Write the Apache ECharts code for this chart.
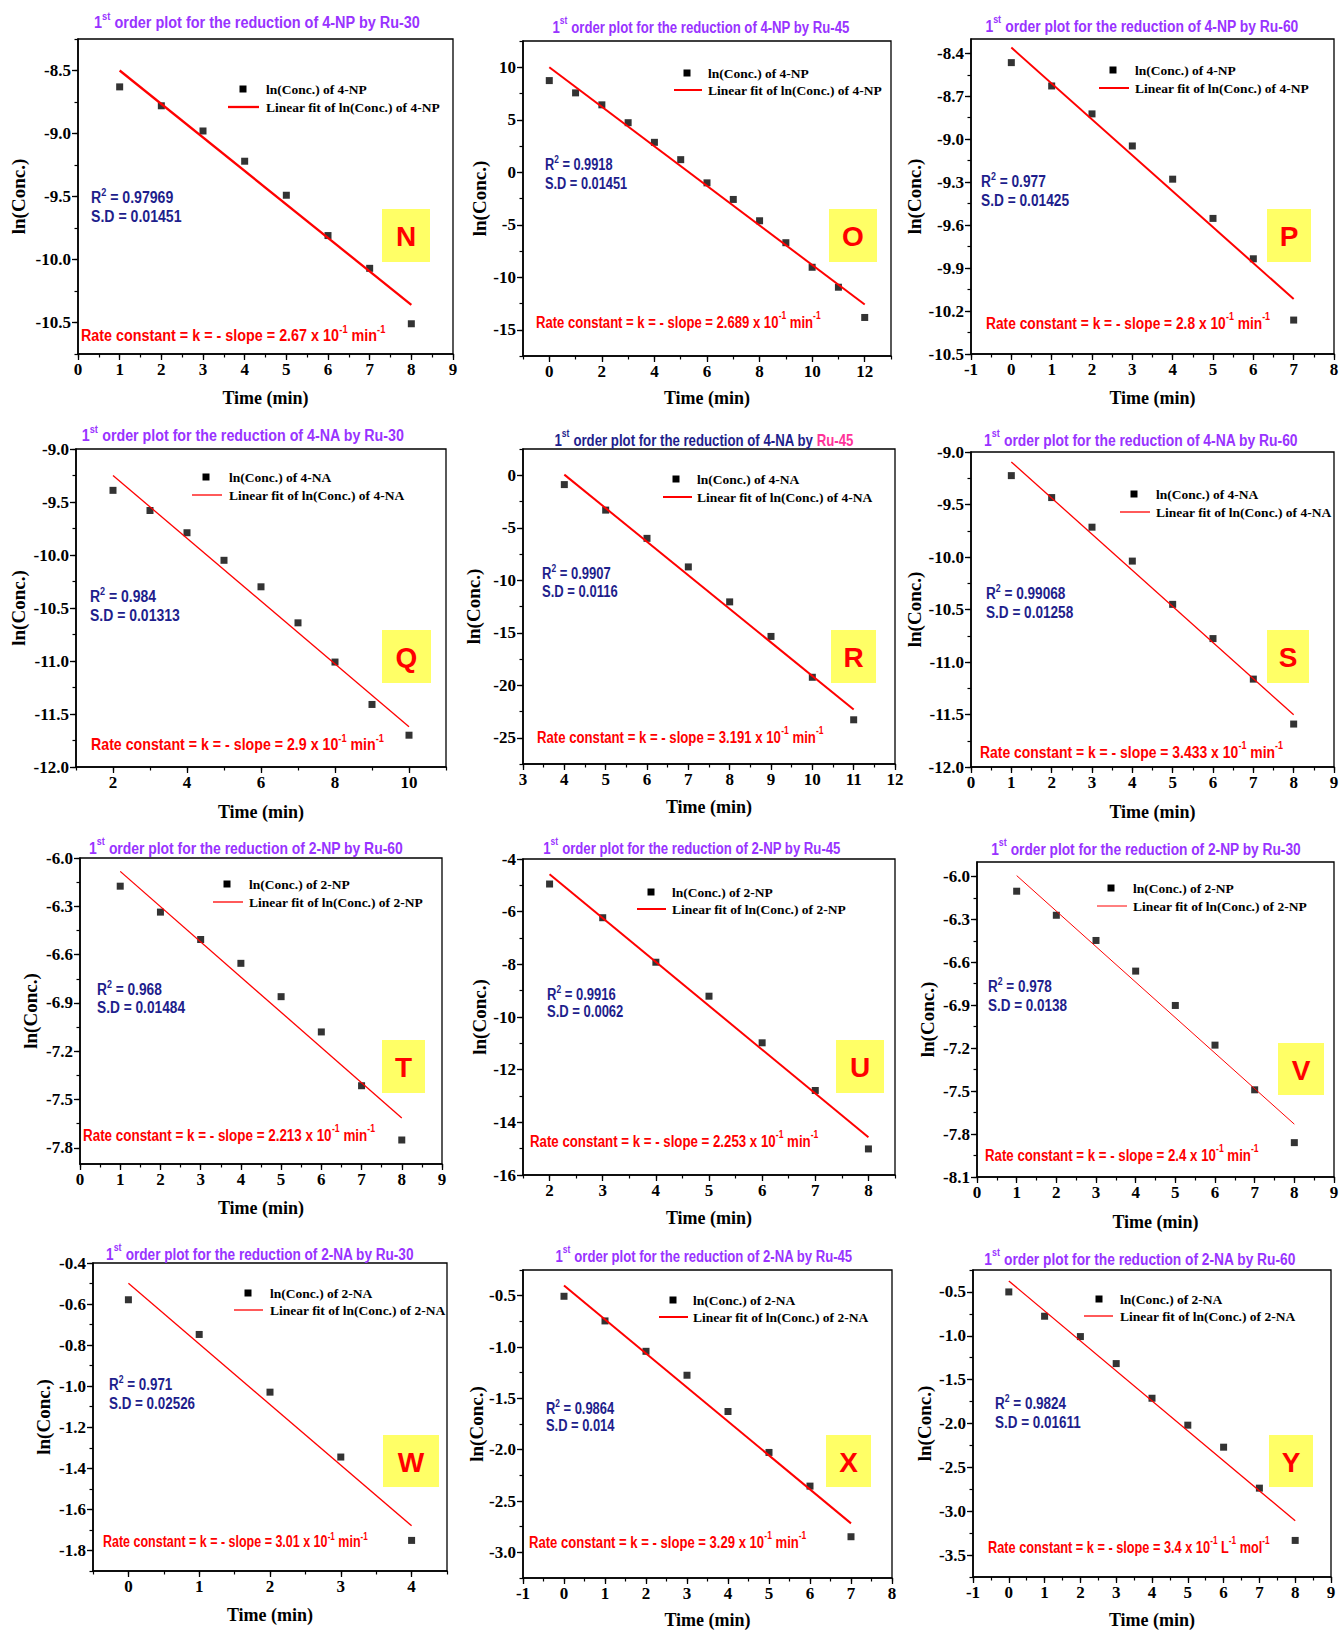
<!DOCTYPE html>
<html>
<head>
<meta charset="utf-8">
<title>1st order plots</title>
<script src="https://cdn.jsdelivr.net/npm/echarts@6.0.0/dist/echarts.min.js"></script>
<style>
  html, body { margin: 0; padding: 0; background: #fff; }
  #chart { width: 1339px; height: 1631px; }
</style>
</head>
<body>
<div id="chart"></div>
<script>
// values, one block per panel
// N : 4-NP by Ru-30
const timeN = [1, 2, 3, 4, 5, 6, 7, 8];
const lnN = [-8.63, -8.78, -8.98, -9.22, -9.49, -9.81, -10.07, -10.51];
const fitN = [[1, -8.50], [8, -10.36]];
const xTicksN = [0, 1, 2, 3, 4, 5, 6, 7, 8, 9];
const yTicksN = [-10.5, -10.0, -9.5, -9.0, -8.5];
const xRangeN = [0, 9];
const yRangeN = [-10.75, -8.25];
const textN = { compound: '4-NP', catalyst: 'Ru-30', r2: '0.97969', sd: '0.01451', k: '2.67' };

// O : 4-NP by Ru-45
const timeO = [0, 1, 2, 3, 4, 5, 6, 7, 8, 9, 10, 11, 12];
const lnO = [8.73, 7.56, 6.42, 4.72, 2.85, 1.20, -1.01, -2.59, -4.62, -6.71, -9.05, -10.95, -13.83];
const fitO = [[0, 10.0], [12, -12.59]];
const xTicksO = [0, 2, 4, 6, 8, 10, 12];
const yTicksO = [-15, -10, -5, 0, 5, 10];
const xRangeO = [-1, 13];
const yRangeO = [-17.5, 12.5];
const textO = { compound: '4-NP', catalyst: 'Ru-45', r2: '0.9918', sd: '0.01451', k: '2.689' };

// P : 4-NP by Ru-60
const timeP = [0, 1, 2, 3, 4, 5, 6, 7];
const lnP = [-8.465, -8.628, -8.823, -9.047, -9.279, -9.553, -9.835, -10.263];
const fitP = [[0, -8.36], [7, -10.116]];
const xTicksP = [-1, 0, 1, 2, 3, 4, 5, 6, 7, 8];
const yTicksP = [-10.5, -10.2, -9.9, -9.6, -9.3, -9.0, -8.7, -8.4];
const xRangeP = [-1, 8];
const yRangeP = [-10.5, -8.3];
const textP = { compound: '4-NP', catalyst: 'Ru-60', r2: '0.977', sd: '0.01425', k: '2.8' };

// Q : 4-NA by Ru-30
const timeQ = [2, 3, 4, 5, 6, 7, 8, 9, 10];
const lnQ = [-9.39, -9.58, -9.79, -10.05, -10.30, -10.64, -11.01, -11.41, -11.70];
const fitQ = [[2, -9.25], [10, -11.62]];
const xTicksQ = [2, 4, 6, 8, 10];
const yTicksQ = [-12.0, -11.5, -11.0, -10.5, -10.0, -9.5, -9.0];
const xRangeQ = [1, 11];
const yRangeQ = [-12, -9];
const textQ = { compound: '4-NA', catalyst: 'Ru-30', r2: '0.984', sd: '0.01313', k: '2.9' };

// R : 4-NA by Ru-45
const timeR = [4, 5, 6, 7, 8, 9, 10, 11];
const lnR = [-0.89, -3.32, -6.01, -8.73, -12.06, -15.35, -19.24, -23.29];
const fitR = [[4, 0.06], [11, -22.31]];
const xTicksR = [3, 4, 5, 6, 7, 8, 9, 10, 11, 12];
const yTicksR = [-25, -20, -15, -10, -5, 0];
const xRangeR = [3, 12];
const yRangeR = [-27.5, 2.5];
const textR = { compound: '4-NA', catalyst: 'Ru-45', r2: '0.9907', sd: '0.0116', k: '3.191' };

// S : 4-NA by Ru-60
const timeS = [1, 2, 3, 4, 5, 6, 7, 8];
const lnS = [-9.225, -9.434, -9.716, -10.039, -10.451, -10.777, -11.163, -11.591];
const fitS = [[1, -9.095], [8, -11.502]];
const xTicksS = [0, 1, 2, 3, 4, 5, 6, 7, 8, 9];
const yTicksS = [-12.0, -11.5, -11.0, -10.5, -10.0, -9.5, -9.0];
const xRangeS = [0, 9];
const yRangeS = [-12, -9];
const textS = { compound: '4-NA', catalyst: 'Ru-60', r2: '0.99068', sd: '0.01258', k: '3.433' };

// T : 2-NP by Ru-60
const timeT = [1, 2, 3, 4, 5, 6, 7, 8];
const lnT = [-6.175, -6.336, -6.506, -6.654, -6.861, -7.080, -7.414, -7.751];
const fitT = [[1, -6.083], [8, -7.614]];
const xTicksT = [0, 1, 2, 3, 4, 5, 6, 7, 8, 9];
const yTicksT = [-7.8, -7.5, -7.2, -6.9, -6.6, -6.3, -6.0];
const xRangeT = [0, 9];
const yRangeT = [-7.9, -6.0];
const textT = { compound: '2-NP', catalyst: 'Ru-60', r2: '0.968', sd: '0.01484', k: '2.213' };

// U : 2-NP by Ru-45
const timeU = [2, 3, 4, 5, 6, 7, 8];
const lnU = [-4.95, -6.23, -7.92, -9.21, -10.98, -12.79, -15.01];
const fitU = [[2, -4.58], [8, -14.57]];
const xTicksU = [2, 3, 4, 5, 6, 7, 8];
const yTicksU = [-16, -14, -12, -10, -8, -6, -4];
const xRangeU = [1.5, 8.5];
const yRangeU = [-16, -4];
const textU = { compound: '2-NP', catalyst: 'Ru-45', r2: '0.9916', sd: '0.0062', k: '2.253' };

// V : 2-NP by Ru-30
const timeV = [1, 2, 3, 4, 5, 6, 7, 8];
const lnV = [-6.104, -6.272, -6.448, -6.662, -6.902, -7.179, -7.491, -7.860];
const fitV = [[1, -5.995], [8, -7.731]];
const xTicksV = [0, 1, 2, 3, 4, 5, 6, 7, 8, 9];
const yTicksV = [-8.1, -7.8, -7.5, -7.2, -6.9, -6.6, -6.3, -6.0];
const xRangeV = [0, 9];
const yRangeV = [-8.1, -5.9];
const textV = { compound: '2-NP', catalyst: 'Ru-30', r2: '0.978', sd: '0.0138', k: '2.4' };

// W : 2-NA by Ru-30
const timeW = [0, 1, 2, 3, 4];
const lnW = [-0.579, -0.748, -1.029, -1.345, -1.751];
const fitW = [[0, -0.499], [4, -1.680]];
const xTicksW = [0, 1, 2, 3, 4];
const yTicksW = [-1.8, -1.6, -1.4, -1.2, -1.0, -0.8, -0.6, -0.4];
const xRangeW = [-0.5, 4.5];
const yRangeW = [-1.9, -0.4];
const textW = { compound: '2-NA', catalyst: 'Ru-30', r2: '0.971', sd: '0.02526', k: '3.01' };

// X : 2-NA by Ru-45
const timeX = [0, 1, 2, 3, 4, 5, 6, 7];
const lnX = [-0.506, -0.746, -1.042, -1.275, -1.628, -2.027, -2.355, -2.848];
const fitX = [[0, -0.40], [7, -2.718]];
const xTicksX = [-1, 0, 1, 2, 3, 4, 5, 6, 7, 8];
const yTicksX = [-3.0, -2.5, -2.0, -1.5, -1.0, -0.5];
const xRangeX = [-1, 8];
const yRangeX = [-3.25, -0.25];
const textX = { compound: '2-NA', catalyst: 'Ru-45', r2: '0.9864', sd: '0.014', k: '3.29' };

// Y : 2-NA by Ru-60
const timeY = [0, 1, 2, 3, 4, 5, 6, 7, 8];
const lnY = [-0.50, -0.777, -1.009, -1.317, -1.712, -2.019, -2.270, -2.737, -3.333];
const fitY = [[0, -0.375], [8, -3.109]];
const xTicksY = [-1, 0, 1, 2, 3, 4, 5, 6, 7, 8, 9];
const yTicksY = [-3.5, -3.0, -2.5, -2.0, -1.5, -1.0, -0.5];
const xRangeY = [-1, 9];
const yRangeY = [-3.75, -0.25];
const textY = { compound: '2-NA', catalyst: 'Ru-60', r2: '0.9824', sd: '0.01611', k: '3.4' };

const panels = [
  { id: 'N', time: timeN, ln: lnN, fit: fitN, xTicks: xTicksN, yTicks: yTicksN, xRange: xRangeN, yRange: yRangeN, text: textN },
  { id: 'O', time: timeO, ln: lnO, fit: fitO, xTicks: xTicksO, yTicks: yTicksO, xRange: xRangeO, yRange: yRangeO, text: textO },
  { id: 'P', time: timeP, ln: lnP, fit: fitP, xTicks: xTicksP, yTicks: yTicksP, xRange: xRangeP, yRange: yRangeP, text: textP },
  { id: 'Q', time: timeQ, ln: lnQ, fit: fitQ, xTicks: xTicksQ, yTicks: yTicksQ, xRange: xRangeQ, yRange: yRangeQ, text: textQ },
  { id: 'R', time: timeR, ln: lnR, fit: fitR, xTicks: xTicksR, yTicks: yTicksR, xRange: xRangeR, yRange: yRangeR, text: textR },
  { id: 'S', time: timeS, ln: lnS, fit: fitS, xTicks: xTicksS, yTicks: yTicksS, xRange: xRangeS, yRange: yRangeS, text: textS },
  { id: 'T', time: timeT, ln: lnT, fit: fitT, xTicks: xTicksT, yTicks: yTicksT, xRange: xRangeT, yRange: yRangeT, text: textT },
  { id: 'U', time: timeU, ln: lnU, fit: fitU, xTicks: xTicksU, yTicks: yTicksU, xRange: xRangeU, yRange: yRangeU, text: textU },
  { id: 'V', time: timeV, ln: lnV, fit: fitV, xTicks: xTicksV, yTicks: yTicksV, xRange: xRangeV, yRange: yRangeV, text: textV },
  { id: 'W', time: timeW, ln: lnW, fit: fitW, xTicks: xTicksW, yTicks: yTicksW, xRange: xRangeW, yRange: yRangeW, text: textW },
  { id: 'X', time: timeX, ln: lnX, fit: fitX, xTicks: xTicksX, yTicks: yTicksX, xRange: xRangeX, yRange: yRangeX, text: textX },
  { id: 'Y', time: timeY, ln: lnY, fit: fitY, xTicks: xTicksY, yTicks: yTicksY, xRange: xRangeY, yRange: yRangeY, text: textY }
];

// where things sit on the page (px). grid = [left, top, right, bottom]
// leg = [square x, row1 y, text x, line x1, line x2, row2 y], stats = [x, R2 y, SD y]
// sq = horizontal squeeze of the condensed sans texts [title, stats, rate]
const layout = {
  N: { grid: [78, 39, 453, 354], title: [257, 21], leg: [243, 89, 266, 228, 259, 107], stats: [91, 196, 215], rate: [81, 334], box: [382, 209, 48, 53], yNameX: 18, xNameY: 398, fitW: 2.3, yDec: 1, sq: [0.85, 0.83, 0.845] },
  O: { grid: [523, 41, 891, 356], title: [701, 25], leg: [687, 73, 708, 674, 702, 90], stats: [545, 163, 182], rate: [536, 320], box: [829, 209, 48, 53], yNameX: 479, xNameY: 398, fitW: 2, yDec: 0, sq: [0.774, 0.753, 0.77] },
  P: { grid: [971, 39, 1334, 354], title: [1142, 24], leg: [1113, 70, 1135, 1099, 1129, 88], stats: [981, 180, 199], rate: [986, 321], box: [1267, 209, 44, 53], yNameX: 914, xNameY: 398, fitW: 2, yDec: 1, sq: [0.816, 0.807, 0.81] },
  Q: { grid: [76, 449, 446, 767], title: [243, 434], leg: [206, 477, 229, 192, 222, 495], stats: [90, 595, 614], rate: [91, 743], box: [382, 630, 49, 53], yNameX: 18, xNameY: 812, fitW: 1.3, yDec: 1, sq: [0.838, 0.823, 0.835] },
  R: { grid: [523, 449, 895, 764], title: [704, 438], leg: [676, 479, 697, 663, 692, 497], stats: [542, 572, 590], rate: [537, 735], box: [831, 630, 45, 53], yNameX: 473, xNameY: 807, fitW: 2, yDec: 0, sq: [0.777, 0.767, 0.775] },
  S: { grid: [971, 452, 1334, 767], title: [1141, 438], leg: [1134, 494, 1156, 1120, 1150, 512], stats: [986, 592, 611], rate: [980, 750], box: [1267, 630, 42, 53], yNameX: 914, xNameY: 812, fitW: 1.3, yDec: 1, sq: [0.816, 0.80, 0.82] },
  T: { grid: [80, 858, 442, 1164], title: [246, 846], leg: [227, 884, 249, 213, 243, 902], stats: [97, 988, 1006], rate: [83, 1133], box: [382, 1040, 43, 53], yNameX: 30, xNameY: 1208, fitW: 1.3, yDec: 1, sq: [0.818, 0.807, 0.79] },
  U: { grid: [523, 859, 895, 1175], title: [692, 846], leg: [651, 892, 672, 637, 666, 909], stats: [547, 993, 1010], rate: [530, 1139], box: [836, 1040, 48, 53], yNameX: 479, xNameY: 1218, fitW: 2, yDec: 0, sq: [0.775, 0.767, 0.78] },
  V: { grid: [977, 862, 1334, 1177], title: [1146, 847], leg: [1111, 888, 1133, 1097, 1127, 906], stats: [988, 985, 1004], rate: [985, 1153], box: [1278, 1043, 46, 52], yNameX: 927, xNameY: 1222, fitW: 1, yDec: 1, sq: [0.807, 0.794, 0.78] },
  W: { grid: [93, 1263, 447, 1571], title: [260, 1252], leg: [248, 1293, 270, 234, 263, 1310], stats: [109, 1383, 1402], rate: [103, 1540], box: [383, 1435, 56, 52], yNameX: 43, xNameY: 1615, fitW: 1.3, yDec: 1, sq: [0.80, 0.789, 0.735] },
  X: { grid: [523, 1270, 892, 1578], title: [704, 1254], leg: [673, 1300, 693, 659, 688, 1317], stats: [546, 1407, 1424], rate: [529, 1540], box: [826, 1435, 45, 52], yNameX: 476, xNameY: 1620, fitW: 2, yDec: 1, sq: [0.772, 0.759, 0.77] },
  Y: { grid: [973, 1270, 1331, 1577], title: [1140, 1257], leg: [1099, 1299, 1120, 1084, 1113, 1316], stats: [995, 1402, 1421], rate: [988, 1545], box: [1269, 1435, 44, 52], yNameX: 924, xNameY: 1620, fitW: 1.3, yDec: 1, sq: [0.809, 0.792, 0.75] }
};

const TIMES = "'Liberation Serif', 'Times New Roman', serif";
const SANS = "'Liberation Sans', Arial, sans-serif";
const PURPLE = '#9933ff';
const NAVY = '#1e1e8c';
const RED = '#ff0000';

// minor ticks at half the major step
function minorTicks(major, range) {
  const half = (major[1] - major[0]) / 2;
  const out = [];
  const start = Math.ceil((range[0] - major[0]) / half - 1e-6);
  const end = Math.floor((range[1] - major[0]) / half + 1e-6);
  for (let k = start; k <= end; k++) out.push(+(major[0] + k * half).toFixed(6));
  return out;
}

function tok(size, family, color, extra) {
  return Object.assign({ fontSize: size, fontFamily: family, fontWeight: 'bold', fill: color, color: color }, extra || {});
}

function richText(x, y, text, rich, align, sx) {
  return {
    type: 'text', x: x, y: y, z: 20, silent: true, scaleX: sx || 1,
    style: { text: text, rich: rich, align: align, verticalAlign: 'middle', textAlign: align, textVerticalAlign: 'middle' }
  };
}

const axisFont = { color: '#000', fontFamily: TIMES, fontWeight: 'bold', fontSize: 17 };
const xNameFont = { color: '#000', fontFamily: TIMES, fontWeight: 'bold', fontSize: 18 };
const yNameFont = { color: '#000', fontFamily: TIMES, fontWeight: 'bold', fontSize: 19 };

const option = {
  animation: false,
  backgroundColor: '#fff',
  grid: [], xAxis: [], yAxis: [], series: [],
  graphic: { elements: [] }
};

panels.forEach((p, i) => {
  const L = layout[p.id];
  const g = L.grid;
  option.grid.push({
    left: g[0], top: g[1], width: g[2] - g[0], height: g[3] - g[1],
    show: true, borderColor: '#000', borderWidth: 1.3, backgroundColor: 'rgba(0,0,0,0)',
    containLabel: false, outerBoundsMode: 'none'
  });

  option.xAxis.push({
    gridIndex: i, type: 'value', position: 'bottom', min: p.xRange[0], max: p.xRange[1],
    axisLine: { show: true, onZero: false, lineStyle: { color: '#000', width: 1.6 } },
    axisTick: { show: true, length: 6, customValues: p.xTicks, lineStyle: { color: '#000', width: 1.3 } },
    axisLabel: Object.assign({ show: true, margin: 7, customValues: p.xTicks, formatter: v => String(Math.round(v)) }, axisFont),
    splitLine: { show: false },
    name: 'Time (min)', nameLocation: 'middle', nameGap: L.xNameY - g[3] - 9, nameTextStyle: xNameFont, nameMoveOverlap: false
  });
  option.xAxis.push({
    gridIndex: i, type: 'value', position: 'bottom', min: p.xRange[0], max: p.xRange[1],
    axisLine: { show: false, onZero: false },
    axisTick: { show: true, length: 3.5, customValues: minorTicks(p.xTicks, p.xRange), lineStyle: { color: '#000', width: 1.2 } },
    axisLabel: { show: false }, splitLine: { show: false }
  });

  option.yAxis.push({
    gridIndex: i, type: 'value', position: 'left', min: p.yRange[0], max: p.yRange[1],
    axisLine: { show: true, onZero: false, lineStyle: { color: '#000', width: 1.6 } },
    axisTick: { show: true, length: 6, customValues: p.yTicks, lineStyle: { color: '#000', width: 1.3 } },
    axisLabel: Object.assign({ show: true, margin: 7, customValues: p.yTicks, formatter: v => (Math.abs(v) < 1e-9 ? 0 : v).toFixed(L.yDec) }, axisFont),
    splitLine: { show: false },
    name: 'ln(Conc.)', nameLocation: 'middle', nameRotate: 90, nameGap: g[0] - L.yNameX - 9.5, nameTextStyle: yNameFont, nameMoveOverlap: false
  });
  option.yAxis.push({
    gridIndex: i, type: 'value', position: 'left', min: p.yRange[0], max: p.yRange[1],
    axisLine: { show: false, onZero: false },
    axisTick: { show: true, length: 3.5, customValues: minorTicks(p.yTicks, p.yRange), lineStyle: { color: '#000', width: 1.2 } },
    axisLabel: { show: false }, splitLine: { show: false }
  });

  const scatterName = 'ln(Conc.) of ' + p.text.compound;
  const fitName = 'Linear fit of ln(Conc.) of ' + p.text.compound;
  option.series.push({
    name: scatterName, type: 'scatter', xAxisIndex: 2 * i, yAxisIndex: 2 * i,
    data: p.time.map((t, k) => [t, p.ln[k]]),
    symbol: 'rect', symbolSize: 7, itemStyle: { color: '#000' }, z: 3, silent: true
  });
  option.series.push({
    name: fitName, type: 'line', xAxisIndex: 2 * i, yAxisIndex: 2 * i,
    data: p.fit, symbol: 'none', lineStyle: { color: RED, width: L.fitW }, z: 4, silent: true
  });

  const els = option.graphic.elements;
  // panel title
  const pink = p.id === 'R';
  const titleColor = pink ? NAVY : PURPLE;
  const titleRich = {
    n: tok(17, SANS, titleColor, { verticalAlign: 'bottom', lineHeight: 20 }),
    s: tok(11, SANS, titleColor, { verticalAlign: 'top', lineHeight: 20 }),
    p: tok(17, SANS, '#ff3399', { verticalAlign: 'bottom', lineHeight: 20 })
  };
  const titleStr = pink
    ? '{n|1}{s|st}{n| order plot for the reduction of ' + p.text.compound + ' by }{p|' + p.text.catalyst + '}'
    : '{n|1}{s|st}{n| order plot for the reduction of ' + p.text.compound + ' by ' + p.text.catalyst + '}';
  els.push(richText(L.title[0], L.title[1], titleStr, titleRich, 'center', L.sq[0]));

  // legend
  const lg = L.leg;
  els.push({ type: 'rect', z: 20, silent: true, shape: { x: lg[0] - 3.5, y: lg[1] - 3.5, width: 7, height: 7 }, style: { fill: '#000' } });
  els.push({ type: 'line', z: 20, silent: true, shape: { x1: lg[3], y1: lg[5], x2: lg[4], y2: lg[5] }, style: { stroke: RED, lineWidth: L.fitW } });
  const legRich = { t: tok(13.5, TIMES, '#000') };
  els.push(richText(lg[2], lg[1], '{t|' + scatterName + '}', legRich, 'left'));
  els.push(richText(lg[2], lg[5], '{t|' + fitName + '}', legRich, 'left'));

  // R2 and S.D
  const statRich = {
    n: tok(17, SANS, NAVY, { verticalAlign: 'bottom', lineHeight: 19 }),
    s: tok(11, SANS, NAVY, { verticalAlign: 'top', lineHeight: 19 })
  };
  els.push(richText(L.stats[0], L.stats[1], '{n|R}{s|2}{n| = ' + p.text.r2 + '}', statRich, 'left', L.sq[1]));
  els.push(richText(L.stats[0], L.stats[2], '{n|S.D = ' + p.text.sd + '}', statRich, 'left', L.sq[1]));

  // rate constant
  const rateRich = {
    n: tok(17, SANS, RED, { verticalAlign: 'bottom', lineHeight: 20 }),
    s: tok(11, SANS, RED, { verticalAlign: 'top', lineHeight: 20 })
  };
  const unit = p.id === 'Y' ? '{n| L}{s|-1}{n| mol}{s|-1}' : '{n| min}{s|-1}';
  els.push(richText(L.rate[0], L.rate[1], '{n|Rate constant = k = - slope = ' + p.text.k + ' x 10}{s|-1}' + unit, rateRich, 'left', L.sq[2]));

  // panel letter
  const b = L.box;
  els.push({ type: 'rect', z: 19, silent: true, shape: { x: b[0], y: b[1], width: b[2], height: b[3] }, style: { fill: '#ffff66' } });
  els.push(richText(b[0] + b[2] / 2, b[1] + b[3] / 2 + 1, '{t|' + p.id + '}', { t: tok(28, SANS, RED) }, 'center'));
});

const chart = echarts.init(document.getElementById('chart'), null, { renderer: 'svg' });
chart.setOption(option);
</script>
</body>
</html>
